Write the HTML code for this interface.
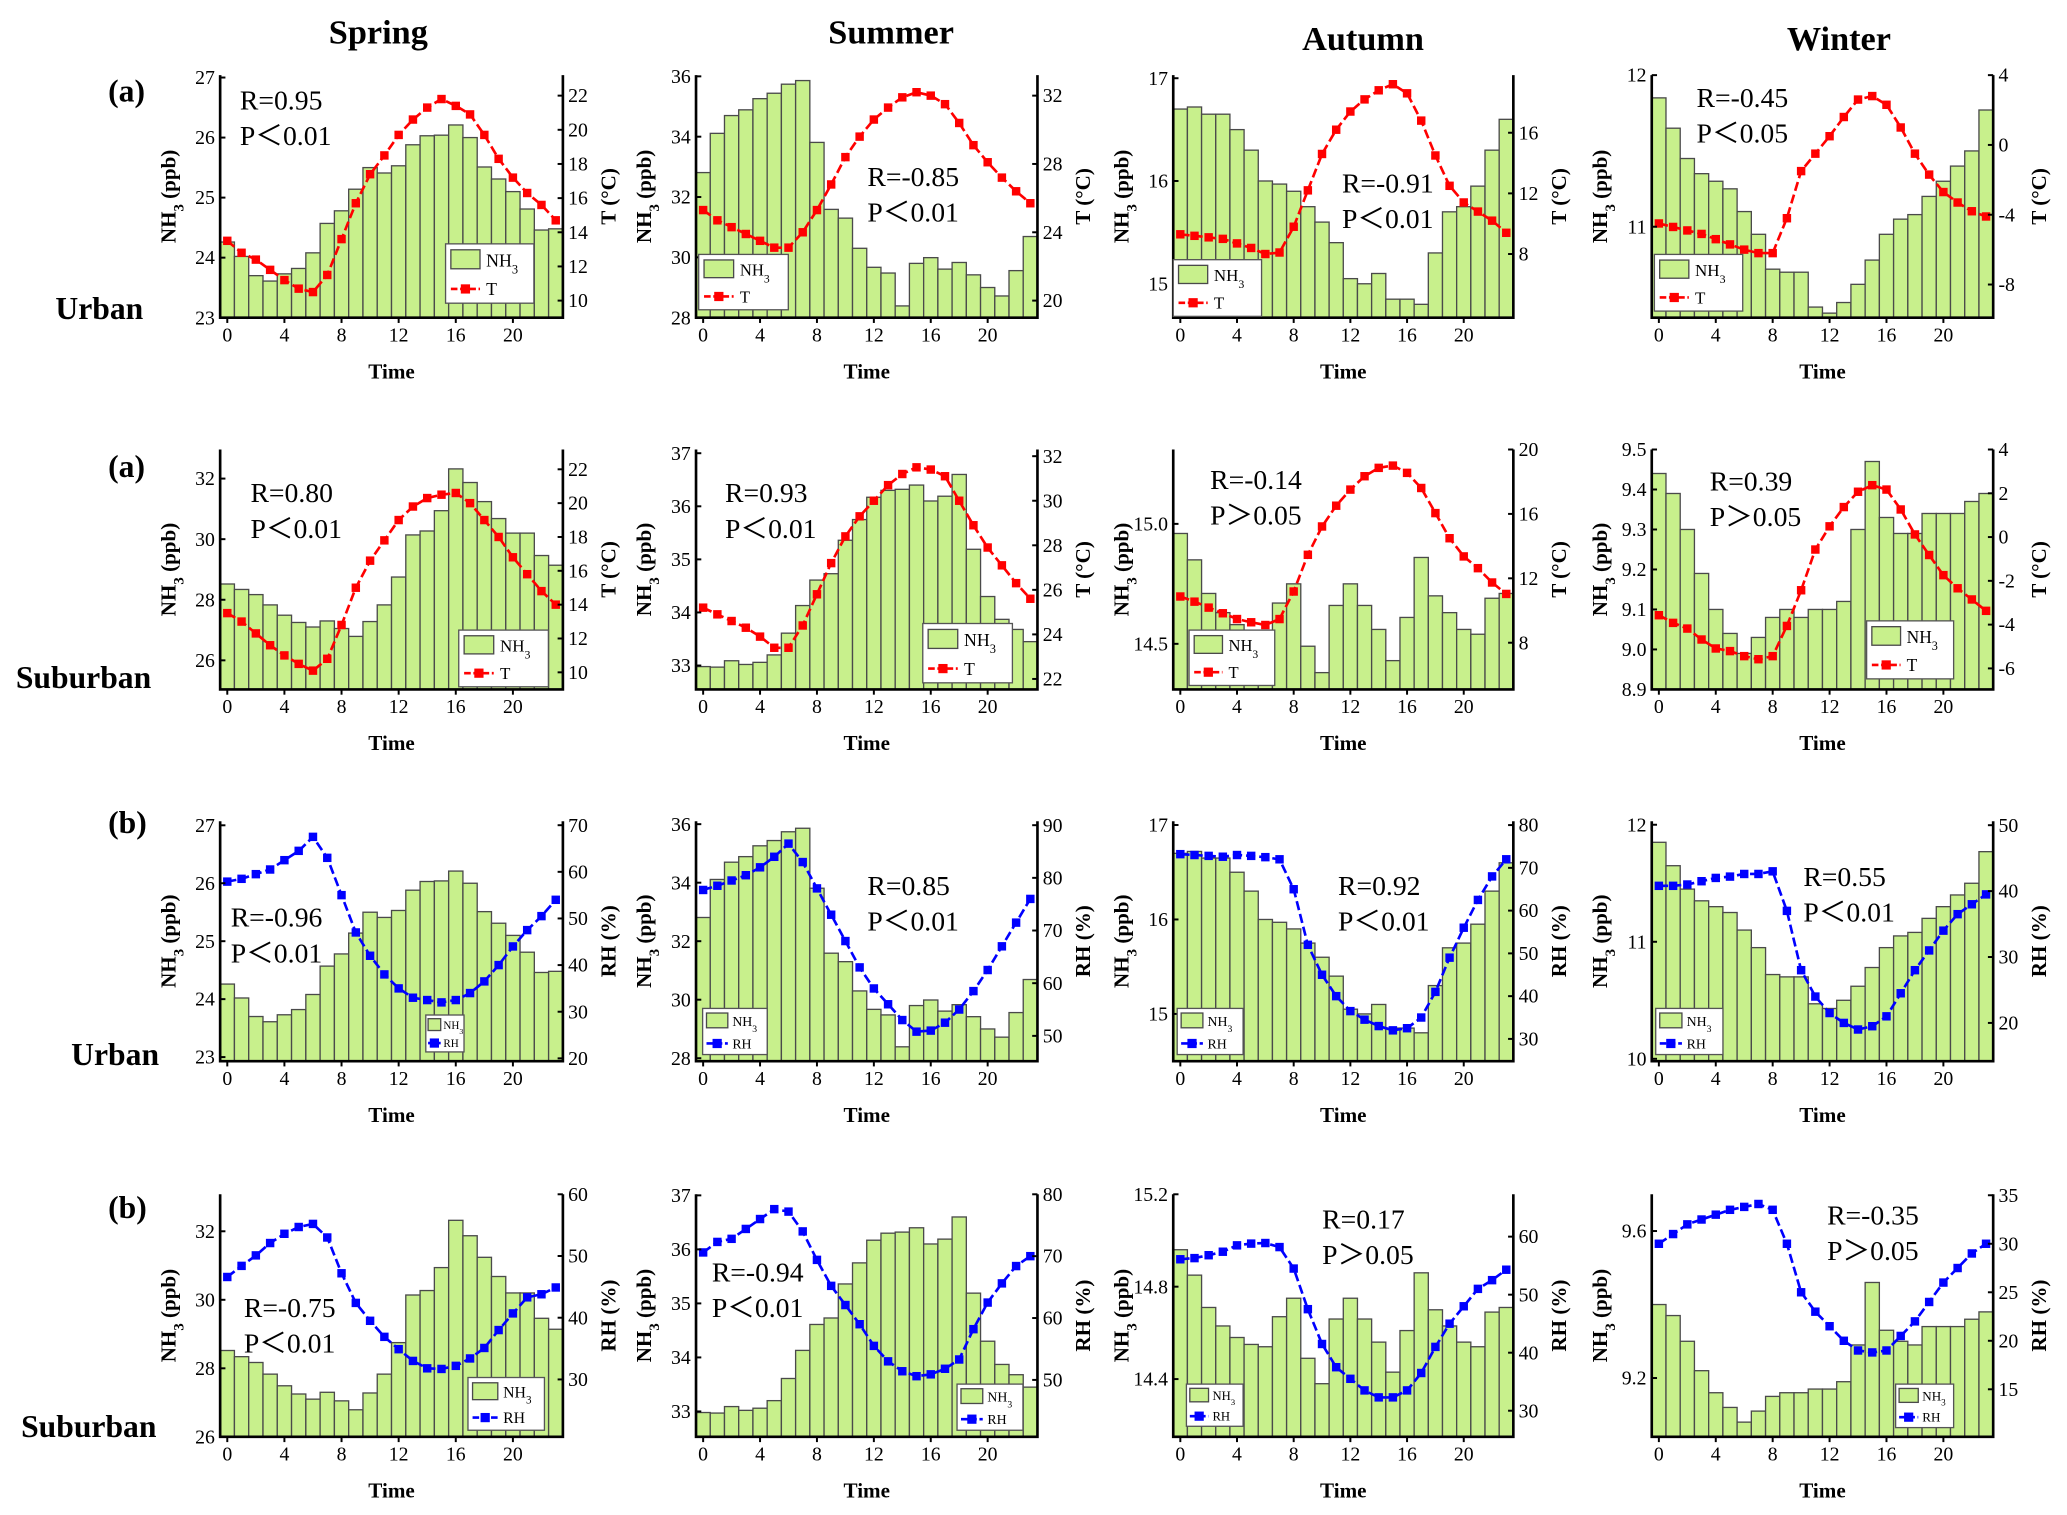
<!DOCTYPE html>
<html><head><meta charset="utf-8"><title>NH3 diurnal variation</title>
<style>
html,body{margin:0;padding:0;background:#fff;}
svg{display:block;font-family:"Liberation Serif","Times New Roman",serif;}
</style></head>
<body>
<svg id="fig" xmlns="http://www.w3.org/2000/svg" width="2067" height="1515" viewBox="0 0 1568 1149.3" preserveAspectRatio="none">
<g font-weight="bold" font-size="26" text-anchor="middle">
<text x="287" y="33">Spring</text>
<text x="676" y="33">Summer</text>
<text x="1034" y="38">Autumn</text>
<text x="1395" y="38">Winter</text>
</g>
<g font-weight="bold" font-size="24">
<text x="82" y="77">(a)</text>
<text x="42" y="242">Urban</text>
<text x="82" y="362">(a)</text>
<text x="12" y="522">Suburban</text>
<text x="82" y="632">(b)</text>
<text x="54" y="808">Urban</text>
<text x="82" y="924">(b)</text>
<text x="16" y="1090">Suburban</text>
</g>
</svg>
<script>
// ---------- data ----------
const hours = [0,1,2,3,4,5,6,7,8,9,10,11,12,13,14,15,16,17,18,19,20,21,22,23];
const xTicks = [0,4,8,12,16,20];

const nh3SpringUrban = [24.26,24.02,23.70,23.61,23.73,23.82,24.08,24.57,24.78,25.14,25.50,25.41,25.53,25.88,26.03,26.04,26.21,26.00,25.51,25.31,25.10,24.81,24.46,24.48];
const nh3SummerUrban = [32.81,34.11,34.70,34.89,35.26,35.44,35.74,35.86,33.81,31.59,31.30,30.30,29.67,29.48,28.39,29.80,29.99,29.61,29.83,29.42,29.00,28.72,29.56,30.69];
const nh3AutumnUrban = [16.70,16.72,16.65,16.65,16.50,16.30,16.00,15.97,15.90,15.75,15.60,15.40,15.05,15.00,15.10,14.85,14.85,14.80,15.30,15.70,15.75,15.95,16.30,16.60];
const nh3WinterUrban = [11.85,11.65,11.45,11.35,11.30,11.25,11.10,10.95,10.72,10.70,10.70,10.47,10.43,10.50,10.62,10.78,10.95,11.05,11.08,11.20,11.30,11.40,11.50,11.77];
const nh3SpringSub = [28.52,28.34,28.17,27.83,27.49,27.25,27.10,27.30,27.05,26.79,27.28,27.83,28.75,30.14,30.27,30.94,32.32,31.87,31.24,30.68,30.20,30.20,29.46,29.14];
const nh3SummerSub = [32.98,32.97,33.09,33.02,33.06,33.20,33.61,34.13,34.61,34.73,35.36,35.75,36.17,36.30,36.32,36.40,36.10,36.19,36.60,35.19,34.30,33.87,33.68,33.45];
const nh3AutumnSub = [14.96,14.85,14.71,14.63,14.58,14.55,14.54,14.67,14.75,14.49,14.38,14.66,14.75,14.66,14.56,14.43,14.61,14.86,14.70,14.63,14.56,14.54,14.69,14.71];
const nh3WinterSub = [9.44,9.39,9.30,9.19,9.10,9.04,8.99,9.03,9.08,9.10,9.08,9.10,9.10,9.12,9.30,9.47,9.33,9.29,9.29,9.34,9.34,9.34,9.37,9.39];
const nh3WinterSubB = [9.40,9.37,9.30,9.22,9.16,9.12,9.08,9.11,9.15,9.16,9.16,9.17,9.17,9.19,9.29,9.46,9.33,9.30,9.29,9.34,9.34,9.34,9.36,9.38];

const tSpringUrban = [13.5,12.8,12.4,11.8,11.2,10.7,10.5,11.5,13.6,15.7,17.4,18.5,19.7,20.6,21.3,21.8,21.4,20.9,19.7,18.3,17.2,16.3,15.6,14.7];
const tSummerUrban = [25.3,24.7,24.3,23.9,23.5,23.1,23.1,24.0,25.3,26.8,28.4,29.6,30.6,31.3,31.9,32.2,32.0,31.5,30.4,29.1,28.1,27.2,26.4,25.7];
const tAutumnUrban = [9.3,9.2,9.1,9.0,8.7,8.4,8.0,8.1,9.8,12.2,14.6,16.2,17.4,18.2,18.8,19.2,18.6,16.8,14.5,12.5,11.4,10.8,10.2,9.4];
const tWinterUrban = [-4.5,-4.7,-4.9,-5.1,-5.4,-5.7,-6.0,-6.2,-6.2,-4.2,-1.5,-0.5,0.5,1.6,2.6,2.8,2.3,1.0,-0.5,-1.7,-2.7,-3.3,-3.8,-4.1];
const tSpringSub = [13.5,13.0,12.3,11.6,11.0,10.5,10.1,10.8,12.8,15.0,16.6,17.8,19.0,19.8,20.3,20.5,20.6,20.0,19.0,18.0,16.8,15.8,14.8,14.0];
const tSummerSub = [25.2,24.9,24.6,24.3,23.9,23.4,23.4,24.4,25.8,27.2,28.4,29.3,30.0,30.7,31.2,31.5,31.4,31.1,30.0,28.9,27.9,27.1,26.3,25.6];
const tAutumnSub = [10.87,10.55,10.18,9.83,9.47,9.27,9.10,9.47,11.18,13.46,15.22,16.51,17.51,18.34,18.86,19.0,18.55,17.61,16.05,14.49,13.36,12.63,11.74,11.03];
const tWinterSub = [-3.57,-3.92,-4.18,-4.68,-5.09,-5.21,-5.44,-5.58,-5.44,-4.06,-2.43,-0.57,0.49,1.37,2.07,2.37,2.17,1.26,0.12,-0.82,-1.74,-2.34,-2.85,-3.37];

const rhSpringUrban = [57.9,58.5,59.5,60.5,62.5,64.5,67.5,63,55,47,42,38,35,33,32.5,32,32.5,34,36.5,40,44,47.5,50.5,54];
const rhSummerUrban = [77.7,78.5,79.5,80.5,82,84,86.5,83,78,73,68,63,59,56,53,50.8,51,52.5,55,58.5,62.5,67,71.5,76];
const rhAutumnUrban = [73.2,73,72.8,72.6,73,72.8,72.5,72,65,52,45,40,36.5,34.5,33,32,32.5,35,41,49,56,62.5,68,72];
const rhWinterUrban = [40.8,40.8,41,41.5,42,42.2,42.6,42.6,43,37,28,24,21.5,20,19,19.5,21,24.5,28,31,34,36.5,38,39.5];
const rhSpringSub = [46.6,48.4,50.1,52.1,53.6,54.7,55.2,53.0,47.2,42.4,39.5,36.9,34.9,33.0,31.8,31.7,32.2,33.4,35.1,38.0,40.7,43.3,43.8,44.9];
const rhSummerSub = [70.6,72.3,72.8,74.4,76.0,77.6,77.2,74.0,69.4,65.2,62.1,59.0,55.5,53.0,51.4,50.6,50.9,51.8,53.3,58.2,62.5,65.6,68.4,70.0];
const rhAutumnSub = [56.1,56.3,56.8,57.4,58.5,58.8,58.9,58.2,54.5,47.5,41.5,37.5,35.5,33.5,32.3,32.3,33.5,36.5,41,45,48,51,52.5,54.3];
const rhWinterSub = [30,31,32,32.5,33,33.5,33.8,34.1,33.5,30,25,23,21.5,20,19,18.8,19,20.5,22,24,26,27.5,29,30];

// ---------- layout ----------
const COLS = [[167,427],[528,787],[890,1148],[1253,1512]];
const ROWS = [[57,241],[341,523],[623,805],[906,1090]];
const RED = '#ff0000', BLUE = '#0000ff';

const panels = [
 {r:0,c:0,name:'spring-urban-t',bars:nh3SpringUrban,line:tSpringUrban,color:RED,lname:'T',L:[23,27.04],Lt:[23,24,25,26,27],R:[9,23.2],Rt:[10,12,14,16,18,20,22],txt:[182,83,'R=0.95','P＜0.01'],leg:[338,185,405,230],rlab:'T (°C)'},
 {r:0,c:1,name:'summer-urban-t',bars:nh3SummerUrban,line:tSummerUrban,color:RED,lname:'T',L:[28,36.04],Lt:[28,30,32,34,36],R:[19,33.2],Rt:[20,24,28,32],txt:[658,141,'R=-0.85','P＜0.01'],leg:[530,193,598,235],rlab:'T (°C)'},
 {r:0,c:2,name:'autumn-urban-t',bars:nh3AutumnUrban,line:tAutumnUrban,color:RED,lname:'T',L:[14.67,17.03],Lt:[15,16,17],R:[3.8,19.8],Rt:[8,12,16],txt:[1018,146,'R=-0.91','P＜0.01'],leg:[890,197,957,240],rlab:'T (°C)'},
 {r:0,c:3,name:'winter-urban-t',bars:nh3WinterUrban,line:tWinterUrban,color:RED,lname:'T',L:[10.4,12.0],Lt:[11,12],R:[-9.9,4],Rt:[-8,-4,0,4],txt:[1287,81,'R=-0.45','P＜0.05'],leg:[1255,193,1322,236],rlab:'T (°C)'},
 {r:1,c:0,name:'spring-suburban-t',bars:nh3SpringSub,line:tSpringSub,color:RED,lname:'T',L:[25.04,32.96],Lt:[26,28,30,32],R:[8.99,23.17],Rt:[10,12,14,16,18,20,22],txt:[190,381,'R=0.80','P＜0.01'],leg:[348,478,416,521],rlab:'T (°C)'},
 {r:1,c:1,name:'summer-suburban-t',bars:nh3SummerSub,line:tSummerSub,color:RED,lname:'T',L:[32.55,37.07],Lt:[33,34,35,36,37],R:[21.53,32.3],Rt:[22,24,26,28,30,32],txt:[550,381,'R=0.93','P＜0.01'],leg:[700,473,768,518],rlab:'T (°C)'},
 {r:1,c:2,name:'autumn-suburban-t',bars:nh3AutumnSub,line:tAutumnSub,color:RED,lname:'T',L:[14.31,15.31],Lt:[14.5,15.0],dec:1,R:[5.1,20],Rt:[8,12,16,20],txt:[918,371,'R=-0.14','P＞0.05'],leg:[902,478,967,520],rlab:'T (°C)'},
 {r:1,c:3,name:'winter-suburban-t',bars:nh3WinterSub,line:tWinterSub,color:RED,lname:'T',L:[8.9,9.5],Lt:[8.9,9.0,9.1,9.2,9.3,9.4,9.5],dec:1,R:[-6.96,4],Rt:[-6,-4,-2,0,2,4],txt:[1297,372,'R=0.39','P＞0.05'],leg:[1416,471,1482,515],rlab:'T (°C)'},
 {r:2,c:0,name:'spring-urban-rh',bars:nh3SpringUrban,line:rhSpringUrban,color:BLUE,lname:'RH',L:[22.93,27.07],Lt:[23,24,25,26,27],R:[19.4,70.85],Rt:[20,30,40,50,60,70],txt:[175,703,'R=-0.96','P＜0.01'],leg:[323,770,352,798],rlab:'RH (%)'},
 {r:2,c:1,name:'summer-urban-rh',bars:nh3SummerUrban,line:rhSummerUrban,color:BLUE,lname:'RH',L:[27.9,36.1],Lt:[28,30,32,34,36],R:[45.2,90.75],Rt:[50,60,70,80,90],txt:[658,679,'R=0.85','P＜0.01'],leg:[533,765,582,800],rlab:'RH (%)'},
 {r:2,c:2,name:'autumn-urban-rh',bars:nh3AutumnUrban,line:rhAutumnUrban,color:BLUE,lname:'RH',L:[14.5,17.04],Lt:[15,16,17],R:[24.8,80.9],Rt:[30,40,50,60,70,80],txt:[1015,679,'R=0.92','P＜0.01'],leg:[893,765,943,800],rlab:'RH (%)'},
 {r:2,c:3,name:'winter-urban-rh',bars:nh3WinterUrban,line:rhWinterUrban,color:BLUE,lname:'RH',L:[9.98,12.03],Lt:[10,11,12],R:[14.2,50.6],Rt:[20,30,40,50],txt:[1368,672,'R=0.55','P＜0.01'],leg:[1256,765,1307,800],rlab:'RH (%)'},
 {r:3,c:0,name:'spring-suburban-rh',bars:nh3SpringSub,line:rhSpringSub,color:BLUE,lname:'RH',L:[26,33.08],Lt:[26,28,30,32],R:[20.7,60],Rt:[30,40,50,60],txt:[185,999,'R=-0.75','P＜0.01'],leg:[355,1045,413,1085],rlab:'RH (%)'},
 {r:3,c:1,name:'summer-suburban-rh',bars:nh3SummerSub,line:rhSummerSub,color:BLUE,lname:'RH',L:[32.53,37.02],Lt:[33,34,35,36,37],R:[40.8,80],Rt:[50,60,70,80],txt:[540,972,'R=-0.94','P＜0.01'],leg:[726,1050,776,1085],rlab:'RH (%)'},
 {r:3,c:2,name:'autumn-suburban-rh',bars:nh3AutumnSub,line:rhAutumnSub,color:BLUE,lname:'RH',L:[14.15,15.2],Lt:[14.4,14.8,15.2],dec:1,R:[25.5,67.3],Rt:[30,40,50,60],txt:[1003,932,'R=0.17','P＞0.05'],leg:[900,1050,943,1082],rlab:'RH (%)'},
 {r:3,c:3,name:'winter-suburban-rh',bars:nh3WinterSubB,line:rhWinterSub,color:BLUE,lname:'RH',L:[9.04,9.7],Lt:[9.2,9.6],dec:1,R:[10.1,35.1],Rt:[15,20,25,30,35],txt:[1386,929,'R=-0.35','P＞0.05'],leg:[1438,1050,1482,1083],rlab:'RH (%)'}
];

const NS = 'http://www.w3.org/2000/svg';
const svg = document.getElementById('fig');
function mk(tag, attrs, parent){
  const e = document.createElementNS(NS, tag);
  for (const k in attrs) e.setAttribute(k, attrs[k]);
  (parent||svg).appendChild(e);
  return e;
}
function addNH3(t, parent){
  t.appendChild(document.createTextNode('NH'));
  const s = document.createElementNS(NS,'tspan');
  s.setAttribute('baseline-shift','sub');
  s.setAttribute('font-size','70%');
  s.textContent='3';
  t.appendChild(s);
}

panels.forEach(p=>{
  const [x0,x1] = COLS[p.c], [y0,y1] = ROWS[p.r];
  const bw = (x1-x0)/24;
  const xs = i => x0 + (i+0.5)*bw;
  const yL = v => y1 - (v-p.L[0])/(p.L[1]-p.L[0])*(y1-y0);
  const yR = v => y1 - (v-p.R[0])/(p.R[1]-p.R[0])*(y1-y0);
  const g = mk('g',{});
  
  

  // bars
  hours.forEach((h,i)=>{
    const top = Math.max(y0, yL(p.bars[i]));
    const b = mk('rect',{x:x0+i*bw,y:top,width:bw,height:Math.max(0,y1-top),fill:'#c8f08c',stroke:'#4a4a4a','stroke-width':1},g);
    
    
  });
  // line
  const pts = hours.map((h,i)=>xs(i).toFixed(1)+','+yR(p.line[i]).toFixed(1)).join(' ');
  const pl = mk('polyline',{points:pts,fill:'none',stroke:p.color,'stroke-width':2,'stroke-dasharray':'7,3'},g);
  
  
  hours.forEach((h,i)=>{
    const m = mk('rect',{x:xs(i)-3.2,y:yR(p.line[i])-3.2,width:6.4,height:6.4,fill:p.color},g);
    
    
  });
  // axes
  const ax = mk('path',{d:`M${x0},${y0} V${y1} H${x1} V${y0}`,fill:'none',stroke:'#000','stroke-width':2},g);
  
  
  // left ticks
  p.Lt.forEach(v=>{
    const y = yL(v);
    mk('line',{x1:x0,x2:x0+4,y1:y,y2:y,stroke:'#000','stroke-width':1.5},g);
    const t = mk('text',{x:x0-4,y:y+5,'font-size':15,'text-anchor':'end'},g);
    
    
    t.textContent = p.dec ? v.toFixed(1) : String(v);
  });
  // right ticks
  p.Rt.forEach(v=>{
    const y = yR(v);
    mk('line',{x1:x1,x2:x1-4,y1:y,y2:y,stroke:'#000','stroke-width':1.5},g);
    const t = mk('text',{x:x1+4,y:y+5,'font-size':15,'text-anchor':'start'},g);
    
    
    t.textContent = String(v);
  });
  // x ticks
  xTicks.forEach(h=>{
    const x = xs(h);
    mk('line',{x1:x,x2:x,y1:y1,y2:y1+4,stroke:'#000','stroke-width':1.5},g);
    const t = mk('text',{x:x,y:y1+18,'font-size':15,'text-anchor':'middle'},g);
    
    
    t.textContent = String(h);
  });
  // axis titles
  const xt = mk('text',{x:(x0+x1)/2,y:y1+46,'font-size':16,'font-weight':'bold','text-anchor':'middle'},g);
  
  
  xt.textContent = 'Time';
  const lx = x0-34, ly = (y0+y1)/2;
  const lt = mk('text',{x:lx,y:ly,'font-size':16,'font-weight':'bold','text-anchor':'middle',transform:`rotate(-90 ${lx} ${ly})`},g);
  
  
  addNH3(lt); lt.appendChild(document.createTextNode(' (ppb)'));
  const rx = x1+40;
  const rt = mk('text',{x:rx,y:ly,'font-size':16,'font-weight':'bold','text-anchor':'middle',transform:`rotate(-90 ${rx} ${ly})`},g);
  
  
  rt.textContent = p.rlab;
  // stats
  const s1 = mk('text',{x:p.txt[0],y:p.txt[1],'font-size':21},g);
  
  
  s1.textContent = p.txt[2];
  const s2 = mk('text',{x:p.txt[0],y:p.txt[1]+27,'font-size':21},g);
  
  
  s2.textContent = p.txt[3];
  // legend
  const [lx0,ly0,lx1,ly1] = p.leg, lw = lx1-lx0, lh = ly1-ly0;
  const lg = mk('g',{},g);
  
  
  mk('rect',{x:lx0,y:ly0,width:lw,height:lh,fill:'#fff',stroke:'#555','stroke-width':1},lg);
  const fs = Math.max(8, lh*0.3);
  const pw = lw*0.33;
  mk('rect',{x:lx0+lw*0.06,y:ly0+lh*0.1,width:pw,height:lh*0.32,fill:'#c8f08c',stroke:'#4a4a4a','stroke-width':1},lg);
  const t1 = mk('text',{x:lx0+lw*0.46,y:ly0+lh*0.38,'font-size':fs},lg);
  
  
  addNH3(t1);
  const my = ly0+lh*0.76;
  mk('line',{x1:lx0+lw*0.06,x2:lx0+lw*0.06+pw,y1:my,y2:my,stroke:p.color,'stroke-width':2,'stroke-dasharray':'5,2'},lg);
  mk('rect',{x:lx0+lw*0.06+pw/2-3.5,y:my-3.5,width:7,height:7,fill:p.color},lg);
  const t2 = mk('text',{x:lx0+lw*0.46,y:my+fs*0.35,'font-size':fs},lg);
  
  
  t2.textContent = p.lname;
});
</script>
</body></html>
